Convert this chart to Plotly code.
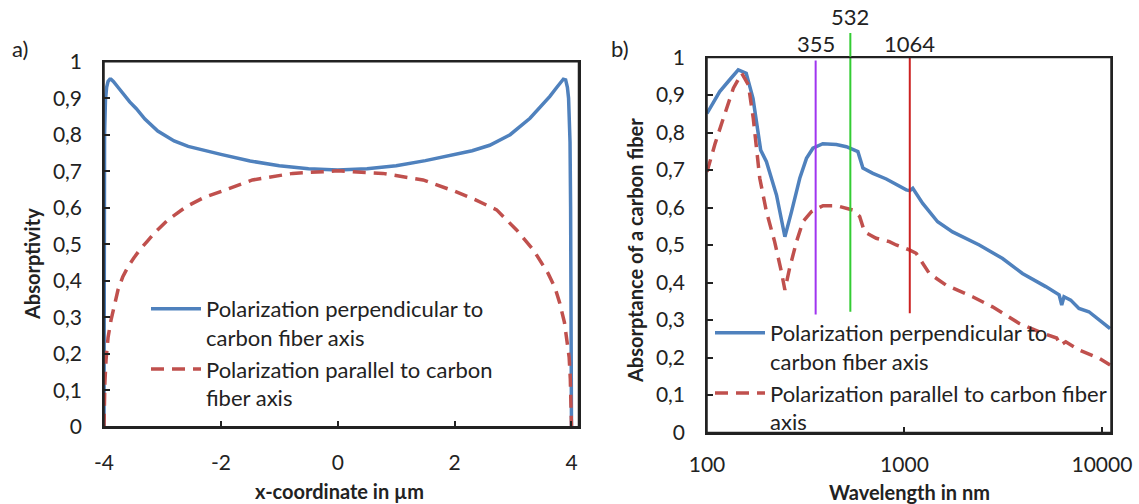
import math
import plotly.graph_objects as go

# ---------------- data: panel a) ----------------
x_perp = [-4.0, -3.995, -3.99, -3.975, -3.955, -3.93, -3.9, -3.88, -3.84, -3.76, -3.66, -3.56, -3.45,
          -3.3, -3.08, -2.8, -2.56, -2.3, -2.0, -1.5, -1.0, -0.5, 0.0, 0.5, 1.0, 1.5, 2.0, 2.3,
          2.6, 2.95, 3.29, 3.5, 3.63, 3.75, 3.82, 3.86, 3.9, 3.93, 3.95, 3.965, 3.975, 3.985, 3.995, 4.0]
y_perp = [0.0, 0.45, 0.8, 0.895, 0.93, 0.946, 0.952, 0.952, 0.946, 0.93, 0.91, 0.89, 0.872,
          0.843, 0.81, 0.783, 0.768, 0.757, 0.746, 0.728, 0.715, 0.707, 0.703, 0.707, 0.715, 0.729, 0.746, 0.756,
          0.771, 0.8, 0.845, 0.88, 0.905, 0.93, 0.945, 0.952, 0.95, 0.93, 0.9, 0.85, 0.78, 0.6, 0.3, 0.0]
x_par = [-4.0, -3.995, -3.985, -3.965, -3.93, -3.88, -3.82, -3.76, -3.68, -3.59, -3.49, -3.39, -3.26, -3.14,
         -2.91, -2.59, -2.3, -2.0, -1.46, -0.77, 0.0, 0.77, 1.46, 2.0, 2.35, 2.72, 3.06, 3.35, 3.6, 3.72,
         3.8, 3.88, 3.93, 3.96, 3.98, 3.99, 4.0]
y_par = [0.0, 0.06, 0.12, 0.183, 0.245, 0.292, 0.338, 0.375, 0.41, 0.438, 0.462, 0.484, 0.508, 0.53,
         0.566, 0.603, 0.627, 0.645, 0.676, 0.694, 0.701, 0.694, 0.676, 0.645, 0.622, 0.594, 0.539, 0.484, 0.42, 0.38,
         0.338, 0.285, 0.235, 0.19, 0.13, 0.07, 0.0]

# ---------------- data: panel b) ----------------
lam_perp = [100, 116, 130, 144, 158, 171, 187, 200, 225, 248, 268, 295, 319, 344, 386, 452, 508, 581,
            616, 692, 809, 944, 1021, 1064, 1102, 1237, 1472, 1753, 2213, 2393, 3140, 3958, 5196, 6070,
            6258, 6427, 6950, 7650, 8590, 9660, 11000]
val_perp = [0.851, 0.909, 0.94, 0.967, 0.958, 0.891, 0.753, 0.722, 0.633, 0.522, 0.589, 0.678, 0.731,
            0.758, 0.770, 0.768, 0.762, 0.749, 0.705, 0.691, 0.676, 0.658, 0.647, 0.645, 0.651, 0.611,
            0.562, 0.535, 0.509, 0.5, 0.464, 0.424, 0.389, 0.367, 0.34, 0.362, 0.353, 0.331, 0.322, 0.30, 0.277]
lam_par = [100, 110, 121, 136, 150, 162, 171.5, 185, 200, 220, 238, 248, 262, 284, 306, 338, 387, 452,
           548, 593, 628, 719, 839, 908, 1059, 1146, 1337, 1624, 2213, 2793, 3811, 5000, 5900, 6180,
           6560, 7650, 9660, 11000]
val_par = [0.695, 0.771, 0.838, 0.918, 0.958, 0.927, 0.838, 0.678, 0.589, 0.509, 0.429, 0.38, 0.438,
           0.509, 0.562, 0.589, 0.605, 0.605, 0.593, 0.576, 0.535, 0.518, 0.509, 0.5, 0.487, 0.478, 0.424,
           0.393, 0.362, 0.335, 0.291, 0.265, 0.252, 0.233, 0.242, 0.22, 0.198, 0.18]

# laser wavelength markers
laser_nm = [355, 532, 1064]
laser_label = ["355", "532", "1064"]
laser_bottom = [0.315, 0.322, 0.318]
laser_top = [0.992, 1.065, 1.0]
laser_color = ["#A035F0", "#33CC33", "#CC2222"]

# ticks
y_ticks = [0, 0.1, 0.2, 0.3, 0.4, 0.5, 0.6, 0.7, 0.8, 0.9, 1.0]
y_ticktext = ["0", "0,1", "0,2", "0,3", "0,4", "0,5", "0,6", "0,7", "0,8", "0,9", "1"]
xa_ticks = [-4, -2, 0, 2, 4]
xa_ticktext = ["-4", "-2", "0", "2", "4"]
xb_ticks = [100, 1000, 10000]
xb_ticktext = ["100", "1000", "10000"]

names_a = ["Polarization perpendicular to<br>carbon fiber axis",
           "Polarization parallel to carbon<br>fiber axis"]
names_b = ["Polarization perpendicular to<br>carbon fiber axis",
           "Polarization parallel to carbon fiber<br>axis"]

BLUE = "#4F81BD"
RED = "#C0504D"
FONT = "Lato"
TXT = "#222222"
W, H = 1139, 504
DASH = "13px,8px"

fig = go.Figure()
fig.add_trace(go.Scatter(x=x_perp, y=y_perp, mode="lines", name=names_a[0],
                         line=dict(color=BLUE, width=3.5), xaxis="x", yaxis="y", legend="legend"))
fig.add_trace(go.Scatter(x=x_par, y=y_par, mode="lines", name=names_a[1],
                         line=dict(color=RED, width=3.5, dash=DASH), xaxis="x", yaxis="y", legend="legend"))
fig.add_trace(go.Scatter(x=lam_perp, y=val_perp, mode="lines", name=names_b[0],
                         line=dict(color=BLUE, width=3.5), xaxis="x2", yaxis="y2", legend="legend2"))
fig.add_trace(go.Scatter(x=lam_par, y=val_par, mode="lines", name=names_b[1],
                         line=dict(color=RED, width=3.5, dash=DASH), xaxis="x2", yaxis="y2", legend="legend2"))
for nm, b, t, c in zip(laser_nm, laser_bottom, laser_top, laser_color):
    fig.add_trace(go.Scatter(x=[nm, nm], y=[b, t], mode="lines", showlegend=False,
                             line=dict(color=c, width=2), xaxis="x2", yaxis="y3", hoverinfo="skip"))

# domains (paper fractions)
xa_dom = [104 / W, 578.5 / W]
ya_dom = [(H - 426.7) / H, (H - 61.7) / H]
xb_dom = [707 / W, 1111 / W]
yb_dom = [(H - 432.5) / H, (H - 57.5) / H]
y3_top = 0.96
y3_range = [0, (y3_top - yb_dom[0]) / (yb_dom[1] - yb_dom[0])]

axis_common = dict(showline=True, linecolor="#222222", linewidth=1.5, mirror=True, ticks="inside",
                   ticklen=6, tickwidth=1.5, tickcolor="#222222", showgrid=False, zeroline=False,
                   tickfont=dict(family=FONT, size=21, color=TXT))

fig.update_layout(
    width=W, height=H, margin=dict(l=0, r=0, t=0, b=0, autoexpand=False),
    paper_bgcolor="white", plot_bgcolor="rgba(0,0,0,0)",
    font=dict(family=FONT, size=21, color=TXT),
    xaxis=dict(domain=xa_dom, anchor="y", range=[-4, 4.12], tickvals=xa_ticks, ticktext=xa_ticktext,
               ticklabelstandoff=16, **axis_common),
    yaxis=dict(domain=ya_dom, anchor="x", range=[0, 1], tickvals=y_ticks, ticktext=y_ticktext,
               ticklabelstandoff=16, **axis_common),
    xaxis2=dict(domain=xb_dom, anchor="y2", type="log", range=[2, 4.046], tickvals=xb_ticks,
                ticktext=xb_ticktext, ticklabelstandoff=13, **axis_common),
    yaxis2=dict(domain=yb_dom, anchor="x2", range=[0, 1], tickvals=y_ticks, ticktext=y_ticktext,
                ticklabelstandoff=16, **axis_common),
    yaxis3=dict(domain=[yb_dom[0], y3_top], anchor="x2", range=y3_range, visible=False),
    legend=dict(x=146 / W, y=(H - 288) / H, xanchor="left", yanchor="top", bgcolor="rgba(0,0,0,0)",
                font=dict(family=FONT, size=22, color=TXT), itemwidth=50, valign="top",
                tracegroupgap=0),
    legend2=dict(x=710 / W, y=(H - 312) / H, xanchor="left", yanchor="top", bgcolor="rgba(0,0,0,0)",
                 font=dict(family=FONT, size=22, color=TXT), itemwidth=50, valign="top",
                 tracegroupgap=0),
    showlegend=True,
)

# plot frames
shapes = []
for xr, yr in [("x", "y"), ("x2", "y2")]:
    shapes.append(dict(type="rect", xref=xr + " domain", yref=yr + " domain", x0=0, x1=1, y0=0, y1=1,
                       line=dict(color="#222222", width=1.5), fillcolor="rgba(0,0,0,0)", layer="above"))
fig.update_layout(shapes=shapes)

ann = []


def txt(text, x, y, size=22, angle=0, xref="paper"):
    return dict(text=text, x=x, y=y, xref=xref, yref="paper", showarrow=False, textangle=angle,
                xanchor="center", yanchor="middle", font=dict(family=FONT, size=size, color=TXT))


# panel labels
ann.append(txt("a)", 20 / W, (H - 48) / H))
ann.append(txt("b)", 620 / W, (H - 48) / H))
# axis titles
ann.append(txt("<b>Absorptivity</b>", 32 / W, (H - 264) / H, size=20, angle=-90))
ann.append(txt("<b>x-coordinate in µm</b>", 340 / W, (H - 491) / H, size=20))
ann.append(txt("<b>Absorptance of a carbon fiber</b>", 635 / W, (H - 251) / H, size=20, angle=-90))
ann.append(txt("<b>Wavelength in nm</b>", 909 / W, (H - 491.5) / H, size=20))
# laser labels
laser_label_y = [43, 17, 43]
for nm, lab, ly in zip(laser_nm, laser_label, laser_label_y):
    ann.append(txt(lab, math.log10(nm), (H - ly) / H, size=22, xref="x2"))
fig.update_layout(annotations=ann)

fig.write_html("out.html", post_script="document.body.style.margin='0px';",
               config={"displayModeBar": False})
